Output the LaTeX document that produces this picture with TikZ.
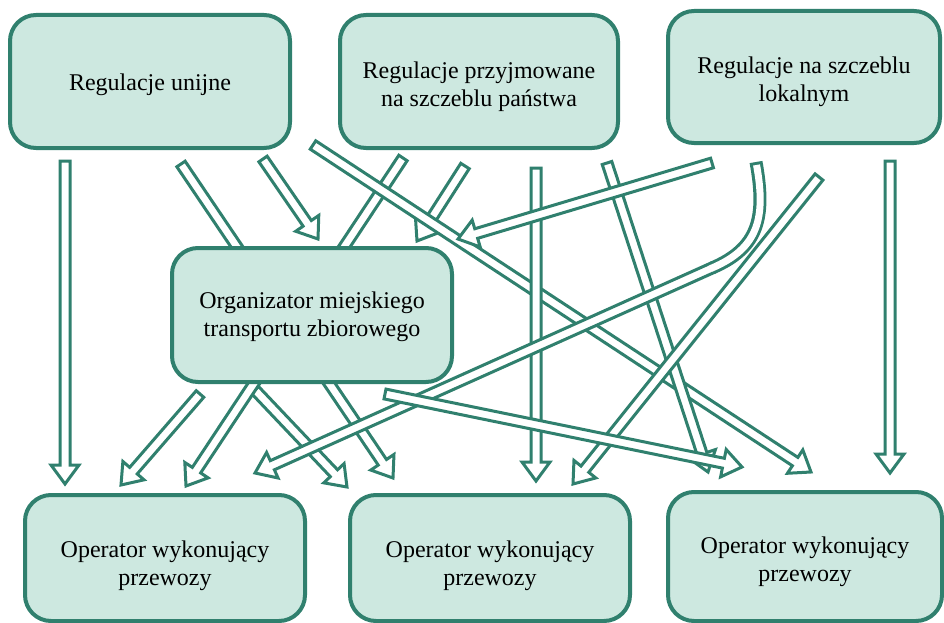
\documentclass[tikz,border=0pt]{standalone}
\usepackage{fontspec}
\setmainfont{Liberation Serif}
\usetikzlibrary{calc}

\definecolor{boxline}{RGB}{48,128,110}
\definecolor{boxfill}{RGB}{205,232,224}

\tikzset{
  regbox/.style={draw=boxline, fill=boxfill, line width=4pt, rounded corners=26pt,
    inner sep=0pt},
  boxtext/.style={align=center, inner sep=0pt, font=\fontsize{24}{28}\selectfont},
  arrowbody/.style={draw=boxline, fill=white, line width=3pt, line join=miter},
  shaftout/.style={draw=boxline, line width=13pt},
  shaftin/.style={draw=white, line width=7pt},
}

% hollow block arrow from coordinate #1 (tail) to coordinate #2 (tip)
\newcommand\barrow[2]{%
  \coordinate (hb) at ($(#2)!19pt!(#1)$);
  \draw[arrowbody]
    ($(#1)!5pt!90:(#2)$) -- ($(hb)!5pt!90:(#2)$) -- ($(hb)!14pt!90:(#2)$)
    -- (#2) -- ($(hb)!14pt!-90:(#2)$) -- ($(hb)!5pt!-90:(#2)$)
    -- ($(#1)!5pt!-90:(#2)$) -- cycle;
}

\begin{document}
\begin{tikzpicture}[x=1pt,y=-1pt]
\useasboundingbox (0,0) rectangle (944,623);

% arrow end points
\coordinate (a1s) at (65,161);   \coordinate (a1e) at (65,484);
\coordinate (a2s) at (181,164);  \coordinate (a2e) at (393,478);
\coordinate (a3s) at (263,159);  \coordinate (a3e) at (318,239);
\coordinate (a4s) at (313,145);  \coordinate (a4e) at (811,472);
\coordinate (a5s) at (465,166);  \coordinate (a5e) at (417,241);
\coordinate (a6s) at (536,168);  \coordinate (a6e) at (536,481);
\coordinate (a7s) at (607,163);  \coordinate (a7e) at (708,472);
\coordinate (a8s) at (712,163);  \coordinate (a8e) at (458,239);
\coordinate (a9s) at (756,162);  \coordinate (a9j) at (712,268);
\coordinate (a9e) at (255,473);
\coordinate (a10s) at (819,177); \coordinate (a10e) at (573,484);
\coordinate (a11s) at (890,161); \coordinate (a11e) at (890,473);
\coordinate (a12s) at (200,394); \coordinate (a12e) at (121,485);
\coordinate (a13s) at (403,158); \coordinate (a13e) at (186,486);
\coordinate (a14s) at (255,390); \coordinate (a14e) at (347,487);
\coordinate (a15s) at (385,394); \coordinate (a15e) at (742,467);

% arrows
\barrow{a1s}{a1e}
\barrow{a3s}{a3e}
\barrow{a5s}{a5e}
\barrow{a2s}{a2e}
\barrow{a14s}{a14e}
\barrow{a13s}{a13e}
\barrow{a12s}{a12e}
\barrow{a4s}{a4e}
\barrow{a6s}{a6e}
\barrow{a7s}{a7e}
\barrow{a8s}{a8e}
% bent arrow: straight part with head, then the curved tail
\barrow{a9j}{a9e}
\draw[shaftout] (a9s) .. controls (766,217) and (759,248) .. (a9j);
\draw[shaftin, shorten <=3pt] (a9s) .. controls (766,217) and (759,248) .. (a9j)
  -- ($(a9j)!2pt!(a9e)$);
\barrow{a10s}{a10e}
\barrow{a11s}{a11e}
\barrow{a15s}{a15e}

% boxes
\node[regbox, minimum width=280pt, minimum height=133pt] (u) at (150,81.5) {};
\node[regbox, minimum width=278pt, minimum height=133pt] (p) at (479,81.5) {};
\node[regbox, minimum width=272pt, minimum height=132pt] (l) at (804,77) {};
\node[regbox, minimum width=280pt, minimum height=134pt] (o) at (312,315) {};
\node[regbox, minimum width=280pt, minimum height=126pt] (op1) at (165,558) {};
\node[regbox, minimum width=280pt, minimum height=126pt] (op2) at (490,558) {};
\node[regbox, minimum width=274pt, minimum height=129pt] (op3) at (805,556.5) {};

% box texts
\node[boxtext] (ut) at ([yshift=-3pt]u.center) {Regulacje unijne};
\node[boxtext] (pt) at ([yshift=-5pt]p.center) {Regulacje przyjmowane\\na szczeblu państwa};
\node[boxtext] (lt) at ([yshift=-5pt]l.center) {Regulacje na szczeblu\\lokalnym};
\node[boxtext] (ot) at ([yshift=-2pt]o.center) {Organizator miejskiego\\transportu zbiorowego};
\node[boxtext] (op1t) at ([yshift=-8pt]op1.center) {Operator wykonujący\\przewozy};
\node[boxtext] (op2t) at ([yshift=-8pt]op2.center) {Operator wykonujący\\przewozy};
\node[boxtext] (op3t) at ([yshift=-5pt]op3.center) {Operator wykonujący\\przewozy};
\end{tikzpicture}
\end{document}
